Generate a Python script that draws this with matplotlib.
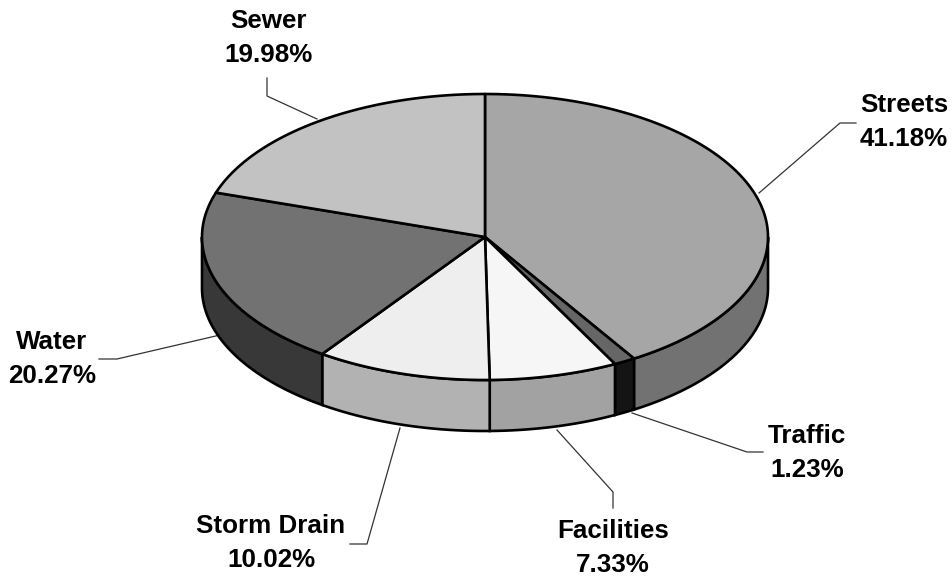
import numpy as np
import matplotlib
matplotlib.use('Agg')
import matplotlib.pyplot as plt
from matplotlib.patches import Polygon

labels = ['Streets', 'Traffic', 'Facilities', 'Storm Drain', 'Water', 'Sewer']
shares = [41.18, 1.23, 7.33, 10.02, 20.27, 19.98]
top_colors = ['#a6a6a6', '#666666', '#f6f6f6', '#eeeeee', '#727272', '#c2c2c2']
side_colors = ['#727272', '#141414', '#a2a2a2', '#b2b2b2', '#383838', '#808080']

# label centre, then the leader line: label end, elbow, pie end (pixels)
label_pos = [(904, 122), (807, 453), (613, 548), (271, 543), (52, 359), (268, 38)]
leaders = [[(856, 123), (840, 123), (759, 193)],
           [(763, 452), (747, 452), (632, 413)],
           [(613, 508), (613, 492), (557, 430)],
           [(350, 544), (367, 544), (400, 428)],
           [(99, 359), (117, 359), (220, 335)],
           [(267, 78), (267, 96), (317, 119)]]

cx, cy = 485, 237
rx, ry = 283, 143
depth = 51

plt.rcParams['font.family'] = ['Liberation Sans', 'DejaVu Sans']

fig = plt.figure(figsize=(9.52, 5.77), dpi=100)
ax = fig.add_axes([0, 0, 1, 1])
ax.set_xlim(0, 952)
ax.set_ylim(577, 0)
ax.axis('off')


def arc(a0, a1, dy=0):
    # angles in degrees, clockwise from the top of the ellipse
    t = np.radians(np.linspace(a0, a1, max(int(abs(a1 - a0)) * 2, 2)))
    return np.column_stack([cx + rx * np.sin(t), cy - ry * np.cos(t) + dy])


edges = np.cumsum([0] + shares)
edges = edges / edges[-1] * 360

# side walls, only the front half of the ellipse shows
for i in range(len(shares)):
    a0 = max(edges[i], 90)
    a1 = min(edges[i + 1], 270)
    if a1 <= a0:
        continue
    pts = np.vstack([arc(a0, a1), arc(a0, a1, depth)[::-1]])
    ax.add_patch(Polygon(pts, closed=True, fc=side_colors[i], ec='black', lw=1.9, zorder=2))

# top face
for i in range(len(shares)):
    pts = np.vstack([[(cx, cy)], arc(edges[i], edges[i + 1])])
    ax.add_patch(Polygon(pts, closed=True, fc=top_colors[i], ec='black', lw=1.9,
                         joinstyle='round', zorder=3))

for i, name in enumerate(labels):
    x, y = label_pos[i]
    ax.text(x, y, f'{name}\n{shares[i]:.2f}%', ha='center', va='center', fontsize=18.7,
            fontweight='bold', color='black', linespacing=1.56, zorder=5)
    ax.plot(*zip(*leaders[i]), color='#333333', lw=0.9, zorder=1)

fig.savefig('out.png', dpi=100)
